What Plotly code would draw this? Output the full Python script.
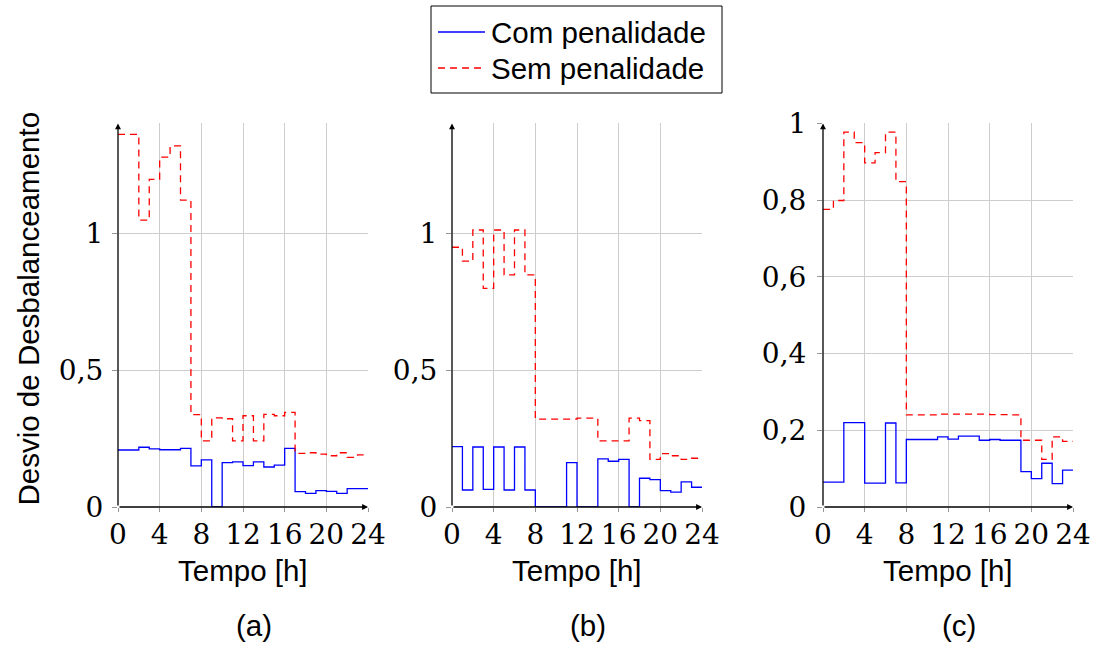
import plotly.graph_objects as go

# Hourly imbalance deviation, one value per hour (0-23)
hours = list(range(25))
x_ticks = [0, 4, 8, 12, 16, 20, 24]

a_com = [0.208, 0.208, 0.218, 0.212, 0.209, 0.209, 0.214, 0.150, 0.172, 0.0,
         0.162, 0.165, 0.151, 0.165, 0.146, 0.153, 0.214, 0.056, 0.050, 0.060,
         0.057, 0.050, 0.067, 0.067]
a_sem = [1.360, 1.360, 1.047, 1.196, 1.277, 1.318, 1.120, 0.337, 0.241, 0.325,
         0.322, 0.241, 0.333, 0.241, 0.338, 0.333, 0.345, 0.196, 0.198, 0.193,
         0.187, 0.198, 0.181, 0.190]

b_com = [0.220, 0.062, 0.219, 0.064, 0.219, 0.062, 0.219, 0.062, 0.0, 0.0,
         0.0, 0.162, 0.0, 0.0, 0.176, 0.167, 0.174, 0.0, 0.105, 0.100,
         0.060, 0.054, 0.092, 0.072]
b_sem = [0.948, 0.897, 1.011, 0.798, 1.011, 0.847, 1.011, 0.847, 0.321, 0.321,
         0.321, 0.321, 0.324, 0.324, 0.241, 0.241, 0.241, 0.324, 0.315, 0.174,
         0.195, 0.187, 0.174, 0.178]

c_com = [0.065, 0.065, 0.220, 0.220, 0.062, 0.062, 0.219, 0.063, 0.176, 0.176,
         0.176, 0.183, 0.177, 0.185, 0.185, 0.174, 0.176, 0.174, 0.174, 0.092,
         0.074, 0.114, 0.061, 0.096]
c_sem = [0.776, 0.799, 0.977, 0.950, 0.897, 0.924, 0.977, 0.848, 0.240, 0.240,
         0.240, 0.242, 0.242, 0.242, 0.242, 0.242, 0.241, 0.241, 0.240, 0.174,
         0.174, 0.124, 0.183, 0.171]

ab_tickvals = [0, 0.5, 1]
ab_ticktext = ["0", "0,5", "1"]
c_tickvals = [0, 0.2, 0.4, 0.6, 0.8, 1]
c_ticktext = ["0", "0,2", "0,4", "0,6", "0,8", "1"]

series_names = ["Com penalidade", "Sem penalidade"]

panels = [
    ("x", "y", a_com, a_sem, "(a)"),
    ("x2", "y2", b_com, b_sem, "(b)"),
    ("x3", "y3", c_com, c_sem, "(c)"),
]

BLUE = "rgb(0,0,255)"
RED = "rgb(255,0,0)"
RED_DASH = "7px,5px"

fig = go.Figure()
for xa, ya, com, sem, _ in panels:
    fig.add_trace(go.Scatter(
        x=hours, y=com + [com[-1]], xaxis=xa, yaxis=ya, mode="lines",
        line=dict(color=BLUE, width=1.3, shape="hv"),
        name=series_names[0], showlegend=False))
    fig.add_trace(go.Scatter(
        x=hours, y=sem + [sem[-1]], xaxis=xa, yaxis=ya, mode="lines",
        line=dict(color=RED, width=1.3, shape="hv", dash=RED_DASH),
        name=series_names[1], showlegend=False))

W, H = 1093, 646
x_domains = [(118, 368), (452, 702), (823, 1073)]
y_bottom, y_top = 507, 123.4
ydom = [(H - y_bottom) / H, (H - y_top) / H]

tick_font = dict(family="DejaVu Serif", size=28, color="black")
text_font = dict(family="Liberation Sans", size=29.5, color="black")
grid_color = "rgb(205,205,205)"
tick_color = "rgb(150,150,150)"

layout = dict(
    width=W, height=H,
    margin=dict(l=0, r=0, t=0, b=0, autoexpand=False),
    paper_bgcolor="white", plot_bgcolor="white",
    showlegend=False,
)

for i, (x0, x1) in enumerate(x_domains):
    sfx = "" if i == 0 else str(i + 1)
    layout["xaxis" + sfx] = dict(
        domain=[x0 / W, x1 / W], range=[0, 24], anchor="y" + sfx,
        tickvals=x_ticks, ticktext=[str(t) for t in x_ticks],
        tickfont=tick_font, ticks="outside", ticklen=4, tickcolor=tick_color,
        showgrid=True, gridcolor=grid_color, gridwidth=1,
        zeroline=False, showline=False, automargin=False,
        ticklabelstandoff=-2,
    )
    if i < 2:
        yr, tv, tt, so = [0, 1.4], ab_tickvals, ab_ticktext, 3
    else:
        yr, tv, tt, so = [0, 1.0], c_tickvals, c_ticktext, 5
    layout["yaxis" + sfx] = dict(
        domain=ydom, range=yr, anchor="x" + sfx,
        tickvals=tv, ticktext=tt, tickfont=tick_font,
        ticks="outside", ticklen=5, tickcolor=tick_color,
        showgrid=True, gridcolor=grid_color, gridwidth=1,
        zeroline=False, showline=False, automargin=False,
        ticklabelstandoff=so,
    )

annotations = []
for i, ((x0, x1), (xa, ya, _, _, label)) in enumerate(zip(x_domains, panels)):
    top = 1.4 if i < 2 else 1.0
    # axis lines with arrow tips
    annotations.append(dict(x=24, y=0, ax=0, ay=0, xref=xa, yref=ya, axref=xa, ayref=ya,
                            text="", showarrow=True, arrowhead=2, arrowsize=0.9,
                            arrowwidth=1.3, arrowcolor="black", standoff=0))
    annotations.append(dict(x=0, y=top, ax=0, ay=0, xref=xa, yref=ya, axref=xa, ayref=ya,
                            text="", showarrow=True, arrowhead=2, arrowsize=0.9,
                            arrowwidth=1.3, arrowcolor="black", standoff=0))
    cx = (x0 + x1) / 2
    annotations.append(dict(x=cx / W, y=(H - 570) / H, xref="paper", yref="paper",
                            text="Tempo [h]", showarrow=False, font=text_font,
                            xanchor="center", yanchor="middle"))
    annotations.append(dict(x=(cx + 11) / W, y=(H - 625) / H, xref="paper", yref="paper",
                            text=label, showarrow=False, font=text_font,
                            xanchor="center", yanchor="middle"))

annotations.append(dict(x=27.5 / W, y=(H - 309) / H, xref="paper", yref="paper",
                        text="Desvio de Desbalanceamento", textangle=-90,
                        showarrow=False, font=text_font,
                        xanchor="center", yanchor="middle"))

# legend box drawn in page pixels
leg_left, leg_right, leg_top, leg_bottom = 431, 722, 6, 93
row_y = [32, 68]
sample_x0, sample_x1, text_x = 438, 485, 489
shapes = [dict(type="rect", xref="paper", yref="paper",
               x0=leg_left / W, x1=leg_right / W,
               y0=(H - leg_bottom) / H, y1=(H - leg_top) / H,
               line=dict(color="black", width=1), fillcolor="white", layer="above")]
sample_styles = [dict(color=BLUE, width=1.3), dict(color=RED, width=1.3, dash=RED_DASH)]
for name, ry, st in zip(series_names, row_y, sample_styles):
    shapes.append(dict(type="line", xref="paper", yref="paper",
                       x0=sample_x0 / W, x1=sample_x1 / W,
                       y0=(H - ry) / H, y1=(H - ry) / H, line=st, layer="above"))
    annotations.append(dict(x=text_x / W, y=(H - ry) / H, xref="paper", yref="paper",
                            text=name, showarrow=False, font=text_font,
                            xanchor="left", yanchor="middle"))

layout["annotations"] = annotations
layout["shapes"] = shapes
fig.update_layout(**layout)

fig.write_html("out.html")
